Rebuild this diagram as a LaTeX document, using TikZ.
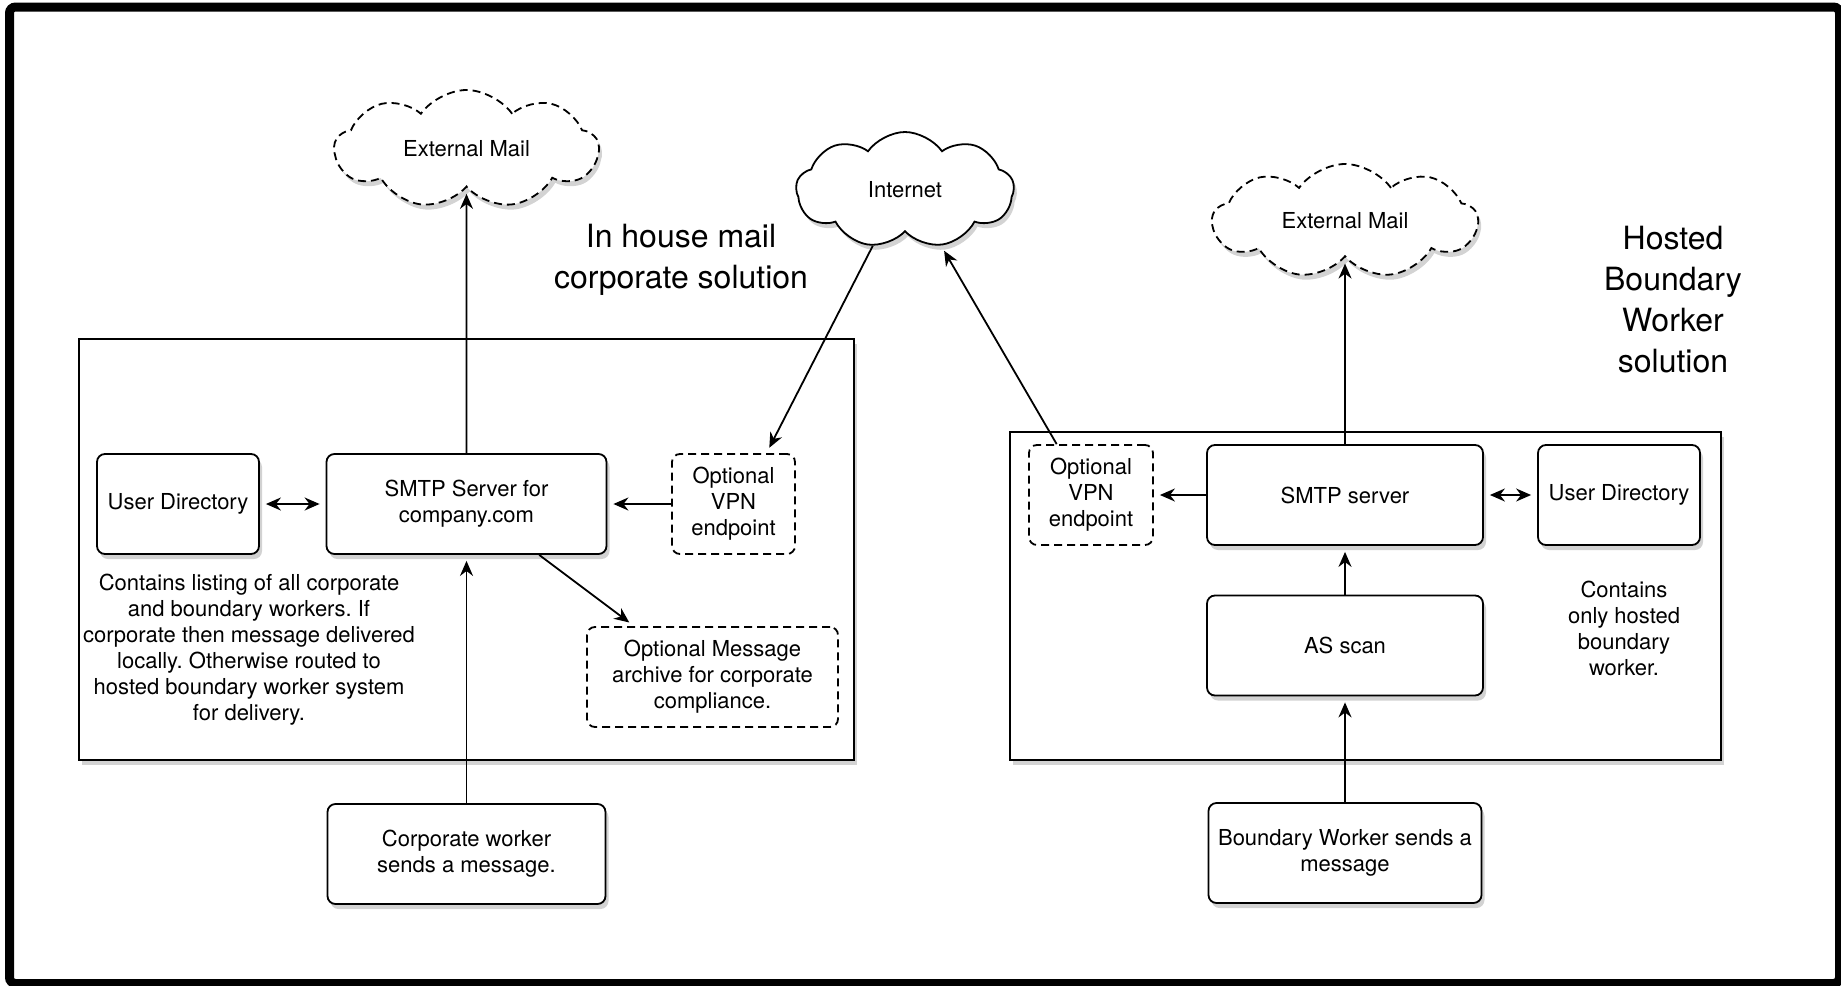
\documentclass[tikz,border=0pt]{standalone}
\usepackage{fontspec}
\setmainfont{TeX Gyre Heros}
\usetikzlibrary{arrows.meta,shapes.symbols,shadows}
\frenchspacing

\begin{document}
\begin{tikzpicture}[
            x=0.5pt, y=-0.5pt,
            >={Stealth[length=7.5pt,width=6.5pt]},
            line width=0.9pt,
            every node/.style={font=\fontsize{11}{13}\selectfont},
            soft/.style={drop shadow={shadow xshift=1.5pt, shadow yshift=-2.5pt, opacity=0.35}},
            box/.style={draw, rounded corners=4pt, align=center, minimum height=50pt, fill=white, soft},
            optbox/.style={draw, dash pattern=on 4pt off 2.5pt, rounded corners=4pt, align=center, minimum height=50pt, fill=white},
            netcloud/.style={draw, cloud, cloud puffs=9, cloud puff arc=110, cloud ignores aspect, fill=white, soft},
            mailcloud/.style={netcloud, dash pattern=on 4pt off 2.5pt},
            area/.style={draw, fill=white, soft},
            title/.style={align=center, font=\fontsize{16}{20.5}\selectfont},
            note/.style={align=center},
            link/.style={->, shorten >=3pt}
        ]
            \useasboundingbox (0,0) rectangle (1841,985);
            \draw[line width=4.5pt, rounded corners=3pt] (9.5,7) rectangle (1839.5,983.5);

            \draw[area] (79,339) rectangle (854,760);
            \draw[area] (1010,432) rectangle (1721,760);

            \node[mailcloud, minimum width=132pt, minimum height=59pt] (extL) at (466.5,149) {External Mail};
            \node[netcloud, minimum width=109pt, minimum height=58pt] (internet) at (905,190) {Internet};
            \node[mailcloud, minimum width=132.5pt, minimum height=57pt] (extR) at (1345,221) {External Mail};

            \node[title] (inhouse) at (681,260) {In house mail\\corporate solution};
            \node[title] (hosted) at (1673,300) {Hosted\\Boundary\\Worker\\solution};

            \node[box, minimum width=81pt] (udL) at (178,504) {User Directory};
            \node[box, minimum width=140pt] (smtpL) at (466.5,504) {SMTP Server for\\company.com};
            \node[optbox, minimum width=61.5pt] (vpnL) at (733.5,504) {Optional\\VPN\\endpoint};
            \node[optbox, minimum width=125.5pt] (archive) at (712.5,677) {Optional Message\\archive for corporate\\compliance.};
            \node[box, minimum width=139pt] (corp) at (466.5,854) {Corporate worker\\sends a message.};
            \node[note] (dirnoteL) at (249,650) {Contains listing of all corporate\\and boundary workers. If\\corporate then message delivered\\locally. Otherwise routed to\\hosted boundary worker system\\for delivery.};

            \node[optbox, minimum width=62pt] (vpnR) at (1091,495) {Optional\\VPN\\endpoint};
            \node[box, minimum width=138pt] (smtpR) at (1345,495) {SMTP server};
            \node[box, minimum width=81pt] (udR) at (1619,495) {User Directory};
            \node[box, minimum width=138pt] (asscan) at (1345,645.5) {AS scan};
            \node[box, minimum width=136.5pt] (bw) at (1345,853) {Boundary Worker sends a\\message};
            \node[note] (dirnoteR) at (1624,628) {Contains\\only hosted\\boundary\\worker.};

            \draw[link] (smtpL.north) -- (extL.south);
            \draw[link] (corp) -- (smtpL);
            \draw[link] (vpnL) -- (smtpL);
            \draw[<->, shorten >=3pt, shorten <=3pt] (udL) -- (smtpL);
            \draw[link] (smtpL.-35) -- (archive.147);
            \draw[link] (internet.-120) -- (vpnL.57);

            \draw[link] (vpnR.124) -- (internet.-57);
            \draw[link] (smtpR.north) -- (extR.south);
            \draw[link] (smtpR) -- (vpnR);
            \draw[<->, shorten >=3pt, shorten <=3pt] (smtpR) -- (udR);
            \draw[link] (asscan) -- (smtpR);
            \draw[link] (bw) -- (asscan);
        \end{tikzpicture}
\end{document}
